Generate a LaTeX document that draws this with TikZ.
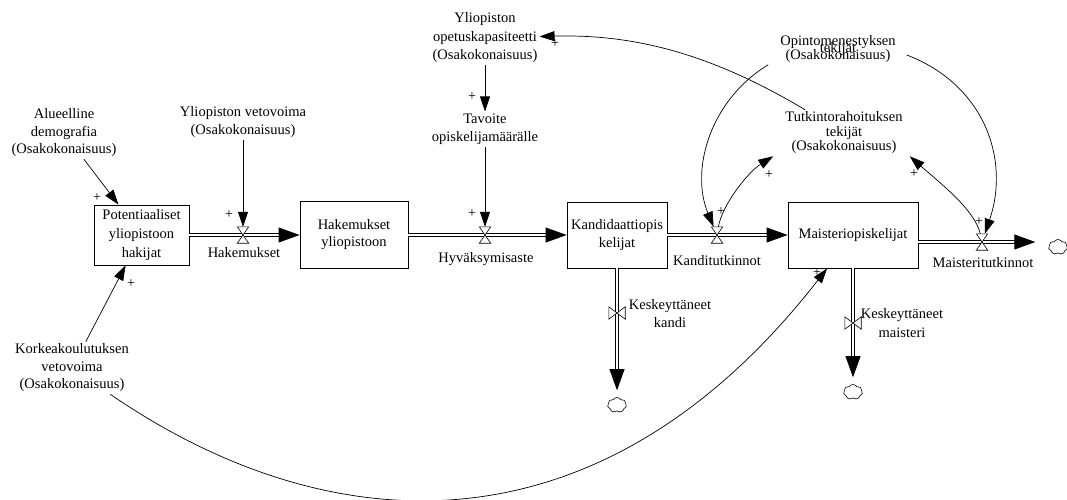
\documentclass[tikz,border=0pt]{standalone}
\usepackage{fontspec}
\setmainfont{Liberation Serif}
\usetikzlibrary{arrows.meta,shapes.symbols,calc}
\newcommand{\tightlines}{\lineskiplimit=-30pt\relax}

\begin{document}
\begin{tikzpicture}[x=1pt,y=-1pt,
  every node/.style={font=\fontsize{14.5}{17.5}\selectfont, align=center, inner sep=2pt},
  stock/.style={draw, line width=0.8pt, inner sep=0pt},
  plus/.style={font=\fontsize{14}{14}\selectfont, inner sep=0pt},
  link/.style={draw, line width=0.7pt, -{Triangle[length=15pt,width=10pt]}},
  pipe/.style={draw, line width=0.8pt, double=white, double distance=2.6pt, shorten >=17pt},
  pipehead/.style={draw, line width=0.8pt, -{Triangle[length=21pt,width=15pt]}},
  valveH/.style={inner sep=0pt, minimum width=11pt, minimum height=16pt},
  valveV/.style={inner sep=0pt, minimum width=16pt, minimum height=12pt},
  valveline/.style={draw, fill=white, line width=0.6pt},
  sink/.style={cloud, cloud puffs=7, cloud puff arc=120, cloud ignores aspect, draw, line width=0.6pt, minimum width=19pt, minimum height=15pt, inner sep=0pt}
]
\useasboundingbox (0,0) rectangle (1067,500);

% stocks
\node[stock, minimum width=95pt, minimum height=60pt, font=\fontsize{14.5}{19}\selectfont] (pot) at (141.5,235) {Potentiaaliset\\yliopistoon\\hakijat};
\node[stock, minimum width=108pt, minimum height=67pt, font=\fontsize{14.5}{17}\selectfont] (hak) at (354,235) {Hakemukset\\yliopistoon};
\node[stock, minimum width=100pt, minimum height=66pt, font=\fontsize{14.5}{18}\selectfont] (kandi) at (617,235) {Kandidaattiopis\\kelijat};
\node[stock, minimum width=130pt, minimum height=66pt] (maist) at (853,235) {Maisteriopiskelijat};

% auxiliaries and sub-model inputs
\node (alue) at (64,133) {Alueelline\\demografia\\(Osakokonaisuus)};
\node[font=\fontsize{14.5}{18}\selectfont] (vetov) at (243,122) {Yliopiston vetovoima\\(Osakokonaisuus)};
\node[font=\fontsize{14.5}{18.5}\selectfont] (opet) at (485,38) {Yliopiston\\opetuskapasiteetti\\(Osakokonaisuus)};
\node[font=\fontsize{14.5}{18}\selectfont] (tav) at (485,129) {Tavoite\\opiskelijamäärälle};
\node[font=\fontsize{14.5}{7}\selectfont\tightlines] (opin) at (838,49) {Opintomenestyksen\\tekijät\\(Osakokonaisuus)};
\node[font=\fontsize{14.5}{14.5}\selectfont] (tutk) at (844,133) {Tutkintorahoituksen\\tekijät\\(Osakokonaisuus)};
\node (korkea) at (72,368) {Korkeakoulutuksen\\vetovoima\\(Osakokonaisuus)};

% valves
\node[valveH] (vHak) at (243,235) {};
\node[valveH] (vHyv) at (485,235) {};
\node[valveH] (vKT) at (717,235) {};
\node[valveH] (vMT) at (982,242) {};
\node[valveV] (vKK) at (617,313) {};
\node[valveV] (vKM) at (853,323) {};

% flow labels
\node (lHak) at (244,253) {Hakemukset};
\node (lHyv) at (486,259) {Hyväksymisaste};
\node (lKT) at (717,261) {Kanditutkinnot};
\node (lMT) at (983,263) {Maisteritutkinnot};
\node[font=\fontsize{14.5}{18}\selectfont] (lKK) at (670,314) {Keskeyttäneet\\kandi};
\node[font=\fontsize{14.5}{19}\selectfont] (lKM) at (902,323) {Keskeyttäneet\\maisteri};

% sinks
\node[sink] (cl1) at (617,405) {};
\node[sink] (cl2) at (853,392) {};
\node[sink] (cl3) at (1058,247) {};

% flow pipes
\draw[pipe] (pot.east) -- (hak.west);
\draw[pipehead] ([xshift=-21pt]hak.west) -- (hak.west);
\draw[pipe] (hak.east) -- (kandi.west);
\draw[pipehead] ([xshift=-21pt]kandi.west) -- (kandi.west);
\draw[pipe] (kandi.east) -- (maist.west);
\draw[pipehead] ([xshift=-21pt]maist.west) -- (maist.west);
\draw[pipe, shorten >=30pt] (maist.east |- vMT) -- (cl3.west |- vMT);
\draw[pipehead, shorten >=13pt] ($(cl3.west |- vMT)+(-34,0)$) -- (cl3.west |- vMT);
\draw[pipe, shorten >=24pt] (kandi.south) -- (cl1.north);
\draw[pipehead, shorten >=7pt] ([yshift=28pt]cl1.north) -- (cl1.north);
\draw[pipe, shorten >=24pt] (maist.south) -- (cl2.north);
\draw[pipehead, shorten >=7pt] ([yshift=28pt]cl2.north) -- (cl2.north);

% valve symbols
\foreach \v in {vHak,vHyv,vKT,vMT}
  \draw[valveline] (\v.north west) -- (\v.north east) -- (\v.south west) -- (\v.south east) -- cycle;
\foreach \v in {vKK,vKM}
  \draw[valveline] (\v.north west) -- (\v.south west) -- (\v.north east) -- (\v.south east) -- cycle;

% causal links
\draw[link] (alue) -- (pot);
\draw[link] (korkea) -- (pot);
\draw[link] (vetov) -- (vHak);
\draw[link] (opet) -- (tav);
\draw[link] (tav) -- (vHyv);
\draw[link] (tutk) .. controls (710,53) and (633,34) .. (opet);
\draw[link] ([xshift=-10pt]opin.south west) .. controls (710,100) and (690,170) .. (vKT);
\draw[link] ([shift={(9pt,-6pt)}]opin.east) .. controls (985,85) and (1010,160) .. (vMT);
\draw[link] (vKT) .. controls (722,205) and (748,172) .. ([xshift=-10pt]tutk.south west);
\draw[link] (vMT) .. controls (975,210) and (940,183) .. ([xshift=5pt]tutk.south east);
\draw[link] (korkea) .. controls (330,545) and (600,560) .. (maist);

% link polarities
\node[plus] (p1) at (97,198) {+};
\node[plus] (p2) at (229,215) {+};
\node[plus] (p3) at (131,284) {+};
\node[plus] (p4) at (472,97) {+};
\node[plus] (p5) at (472,214) {+};
\node[plus] (p6) at (555,44) {+};
\node[plus] (p7) at (721,212) {+};
\node[plus] (p8) at (769,175) {+};
\node[plus] (p9) at (979,222) {+};
\node[plus] (p10) at (914,174) {+};
\node[plus] (p11) at (817,273) {+};
\end{tikzpicture}
\end{document}
